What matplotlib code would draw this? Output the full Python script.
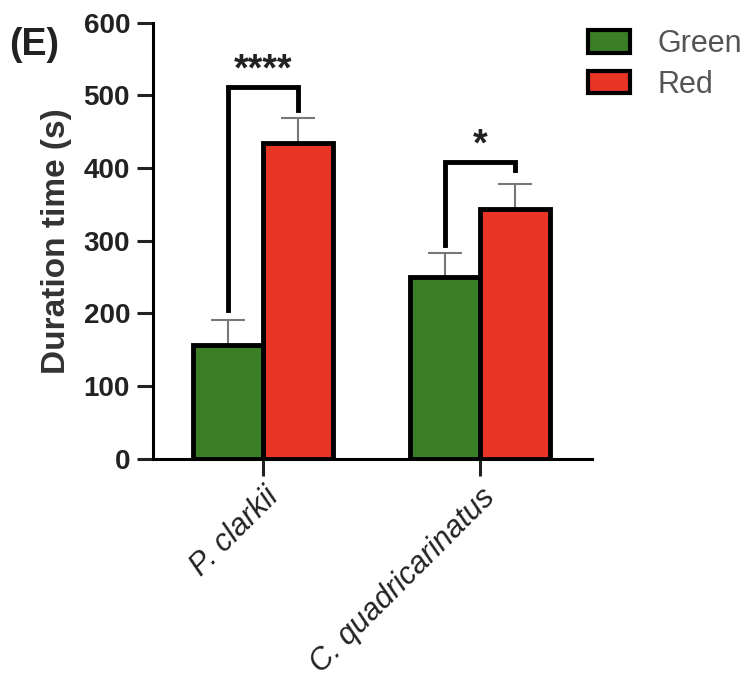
import numpy as np
import matplotlib.pyplot as plt

plt.rcParams['font.family'] = ['Liberation Sans', 'DejaVu Sans']

# données
species = ['P. clarkii', 'C. quadricarinatus']
green_mean = [157, 250]
green_sem = [34, 33]
red_mean = [435, 344]
red_sem = [34, 34]
signif = ['****', '*']
bracket_top = [512, 408]
bracket_low = [(205, 480), (294, 397)]

green_col = '#3a7f25'
red_col = '#e83424'

fig = plt.figure(figsize=(7.56, 6.92), dpi=100)
ax = fig.add_axes([0.2024, 0.337, 0.581, 0.630])

x = np.arange(len(species))
w = 0.323

ax.bar(x - w / 2, green_mean, w, color=green_col, edgecolor='black', linewidth=3.5, label='Green', zorder=2)
ax.bar(x + w / 2, red_mean, w, color=red_col, edgecolor='black', linewidth=3.5, label='Red', zorder=2)

# barres d'erreur (seulement vers le haut)
ax.errorbar(x - w / 2, green_mean, yerr=[np.zeros(2), green_sem], fmt='none',
            ecolor='#777777', elinewidth=1.5, capsize=12.5, capthick=1.5, zorder=1)
ax.errorbar(x + w / 2, red_mean, yerr=[np.zeros(2), red_sem], fmt='none',
            ecolor='#777777', elinewidth=1.5, capsize=12.5, capthick=1.5, zorder=1)

# crochets de significativité
for i in range(len(species)):
    xl, xr = x[i] - w / 2, x[i] + w / 2
    yl, yr = bracket_low[i]
    ax.plot([xl, xl, xr, xr], [yl, bracket_top[i], bracket_top[i], yr],
            color='black', lw=3.5, solid_joinstyle='miter', zorder=3)
    ax.text((xl + xr) / 2, bracket_top[i] + 9, signif[i], ha='center', va='baseline',
            fontsize=27, fontweight='bold', color='#222222')

ax.set_xlim(-0.507, 1.516)
ax.set_ylim(0, 600)
ax.set_yticks([0, 100, 200, 300, 400, 500, 600])
ax.set_xticks(x)
ax.set_xticklabels(species, rotation=45, ha='right', va='top', rotation_mode='anchor',
                   fontsize=22, style='italic', color='#3a3a3a')
for lab in ax.get_yticklabels():
    lab.set_fontweight('bold')
    lab.set_fontsize(20)
    lab.set_color('#333333')

ax.spines['top'].set_visible(False)
ax.spines['right'].set_visible(False)
ax.spines['left'].set_linewidth(2.2)
ax.spines['bottom'].set_linewidth(2.2)
ax.tick_params(axis='both', width=2.2, length=11.5, colors='#222222', pad=5)
ax.tick_params(axis='x', length=12, pad=5)

ax.set_ylabel('Duration time (s)', fontsize=24, fontweight='bold', color='#333333', labelpad=8)

fig.text(0.012, 0.92, '(E)', fontsize=27, fontweight='bold', color='#222222')

leg = ax.legend(loc='upper left', bbox_to_anchor=(0.778, 0.958), bbox_transform=fig.transFigure,
                frameon=False, fontsize=22, borderpad=0, borderaxespad=0,
                handlelength=1.38, handleheight=0.75, labelspacing=0.35, handletextpad=0.9)
for t in leg.get_texts():
    t.set_color('#555555')
for p in leg.get_patches():
    p.set_linewidth(3)

plt.savefig('out.png', dpi=100)
